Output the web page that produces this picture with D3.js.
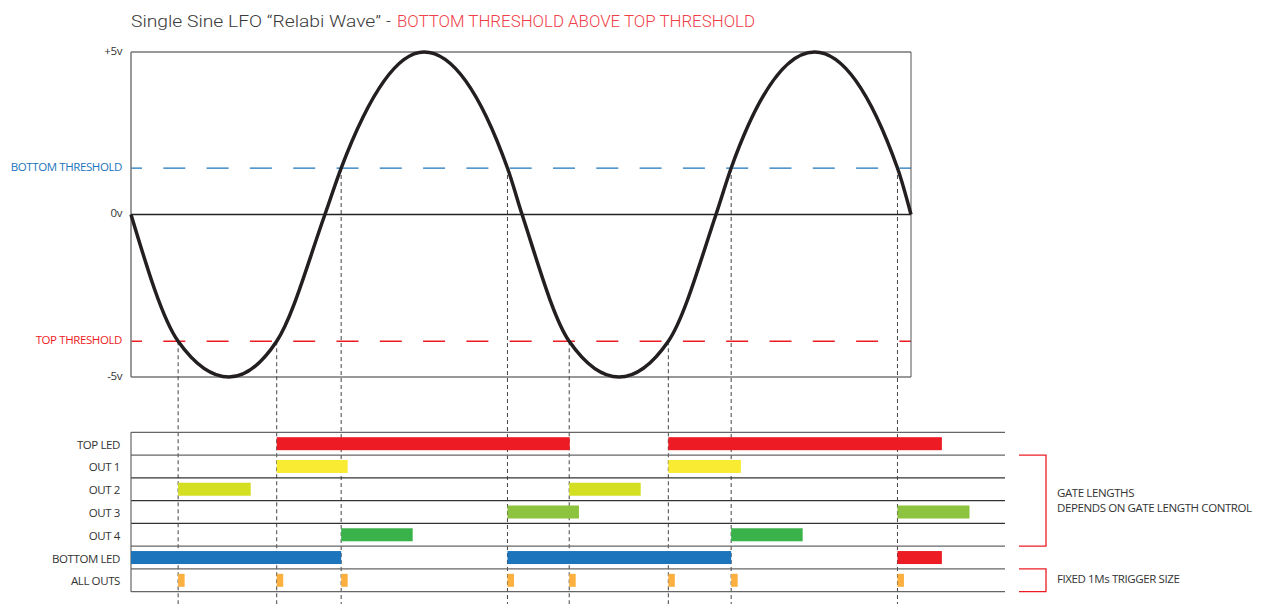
<!DOCTYPE html>
<html><head><meta charset="utf-8">
<script src="https://cdn.jsdelivr.net/npm/d3@7"></script>
<style>
html,body{margin:0;padding:0;background:#fff;}
svg{display:block;}
text{font-family:"Open Sans",sans-serif;}
</style></head>
<body>
<svg id="c" width="1265" height="606"></svg>
<script>
// ---- data (phase in degrees, voltage in volts) ----
const wavePhase = [0, 43.5, 90.5, 134.5, 179, 194, 270.5, 347.5, 361, 404.5, 450.5, 496, 540, 554, 631, 707.5, 720];
const waveVolts = [0, -3.9, -5, -3.9, 0, 1.43, 5, 1.43, 0, -3.9, -5, -3.9, 0, 1.43, 5, 1.43, 0];
const topThreshold = -3.9;
const bottomThreshold = 1.43;
const axisLabels = ["+5v", "BOTTOM THRESHOLD", "0v", "TOP THRESHOLD", "-5v"];
const axisValues = [5, 1.43, 0, -3.9, -5];
const axisKinds = ["plain", "bottom", "plain", "top", "plain"];
const crossPhases = [43.5, 134.5, 194, 347.5, 404.5, 496, 554, 707.5];
const crossKinds = ["top", "top", "bottom", "bottom", "top", "top", "bottom", "bottom"];
const rows = ["TOP LED", "OUT 1", "OUT 2", "OUT 3", "OUT 4", "BOTTOM LED", "ALL OUTS"];
const barRow = ["TOP LED","TOP LED","OUT 1","OUT 1","OUT 2","OUT 2","OUT 3","OUT 3","OUT 4","OUT 4","BOTTOM LED","BOTTOM LED","BOTTOM LED"];
const barStart = [134.5, 496, 134.5, 496, 43.5, 404.5, 347.5, 707.5, 194, 554, 0, 347.5, 707.5];
const barEnd   = [405, 748.5, 200, 563, 110.5, 470.5, 413.5, 774, 260, 620, 194, 554, 748.5];
const barKind  = ["top","top","out1","out1","out2","out2","out3","out3","out4","out4","bottom","bottom","top"];
const triggerPhases = [43.5, 134.5, 194, 347.5, 404.5, 496, 554, 707.5];
const triggerWidth = 6;
const titleMain = "Single Sine LFO \u201cRelabi Wave\u201d";
const titleSub = "BOTTOM THRESHOLD ABOVE TOP THRESHOLD";
const noteGate = ["GATE LENGTHS", "DEPENDS ON GATE LENGTH CONTROL"];
const noteTrig = "FIXED 1Ms TRIGGER SIZE";

const colors = {top:"#ED1C24", bottom:"#1C75BC", out1:"#F9EB32", out2:"#D4DF22", out3:"#8DC33F", out4:"#39B24A", trig:"#FBB040", plain:"#333"};

const svg = d3.select("#c");
const x = d3.scaleLinear().domain([0, 720]).range([131, 911]);
const y = d3.scaleLinear().domain([-5, 5]).range([377, 52]);
const rowY = d3.scaleBand().domain(rows).range([432.3, 591.7]);
const barH = 13;
const lblFont = "11.5px", lblSpace = "-0.4px";

// title
const t = svg.append("text").attr("x", 131).attr("y", 27).style("font-family","Roboto").style("font-weight","300").style("font-size","17px");
t.append("tspan").attr("fill","#3a3a3a").text(titleMain).attr("textLength",250).attr("lengthAdjust","spacingAndGlyphs");
t.append("tspan").attr("x",386).attr("fill","#3a3a3a").text("-");
t.append("tspan").attr("x",397).attr("fill","#EF4048").text(titleSub).attr("textLength",358).attr("lengthAdjust","spacingAndGlyphs");

// threshold dashed lines
[["bottom", bottomThreshold], ["top", topThreshold]].forEach(([k, v]) => {
  svg.append("line").attr("x1", x(0)).attr("x2", x(720)).attr("y1", y(v)).attr("y2", y(v))
    .attr("stroke", colors[k]).attr("stroke-width", 1.3)
    .attr("stroke-dasharray", "22,21.3").attr("stroke-dashoffset", 11);
});

// frame
svg.append("line").attr("x1", x(0)).attr("x2", x(720)).attr("y1", y(5)).attr("y2", y(5)).attr("stroke","#333").attr("stroke-width",1);
svg.append("line").attr("x1", x(0)).attr("x2", x(720)).attr("y1", y(-5)).attr("y2", y(-5)).attr("stroke","#333").attr("stroke-width",1);
svg.append("line").attr("x1", x(720)).attr("x2", x(720)).attr("y1", y(5)).attr("y2", y(-5)).attr("stroke","#555").attr("stroke-width",1);
svg.append("line").attr("x1", x(0)).attr("x2", x(0)).attr("y1", y(5)).attr("y2", y(-5)).attr("stroke","#777").attr("stroke-width",1.5);
svg.append("line").attr("x1", x(0)).attr("x2", x(720)).attr("y1", y(0)).attr("y2", y(0)).attr("stroke","#222").attr("stroke-width",1.6);

// axis labels
axisLabels.forEach((lab, i) => {
  svg.append("text").attr("x", 122).attr("y", y(axisValues[i]) - 1.5).attr("dy","0.35em")
    .attr("text-anchor","end").style("font-size",lblFont).style("letter-spacing",lblSpace)
    .attr("fill", axisKinds[i] === "plain" ? "#333" : colors[axisKinds[i]]).text(lab);
});

// dotted verticals
crossPhases.forEach((p, i) => {
  svg.append("line").attr("x1", x(p)).attr("x2", x(p))
    .attr("y1", y(crossKinds[i] === "top" ? topThreshold : bottomThreshold)).attr("y2", 604)
    .attr("stroke","#444").attr("stroke-width",1).attr("stroke-dasharray","4,3");
});

// wave
const wavePts = wavePhase.map((p, i) => [p, waveVolts[i]]);
svg.append("path").datum(wavePts)
  .attr("d", d3.line().x(d => x(d[0])).y(d => y(d[1])).curve(d3.curveMonotoneX))
  .attr("fill","none").attr("stroke","#231F20").attr("stroke-width",3.5);

// rows
const boundaries = rows.map(r => rowY(r)).concat([rowY.range()[1]]);
boundaries.forEach((b, i) => {
  svg.append("line").attr("x1", x(0)).attr("x2", 1005).attr("y1", b).attr("y2", b)
    .attr("stroke", (i >= 2 && i <= 4) ? "#333" : "#666").attr("stroke-width", 1.2);
});
svg.append("line").attr("x1", x(0)).attr("x2", x(0)).attr("y1", boundaries[0]).attr("y2", boundaries[boundaries.length-1]).attr("stroke","#666").attr("stroke-width",1.2);

rows.forEach(r => {
  svg.append("text").attr("x", 120).attr("y", rowY(r) + rowY.bandwidth()/2 + 1).attr("dy","0.35em")
    .attr("text-anchor","end").style("font-size",lblFont).style("letter-spacing",lblSpace).attr("fill","#333").text(r);
});

// bars
barRow.forEach((r, i) => {
  svg.append("rect").attr("x", x(barStart[i])).attr("width", x(barEnd[i]) - x(barStart[i]))
    .attr("y", rowY(r) + (rowY.bandwidth() - barH)/2).attr("height", barH).attr("fill", colors[barKind[i]]);
});
triggerPhases.forEach(p => {
  svg.append("rect").attr("x", x(p)).attr("width", x(p + triggerWidth) - x(p))
    .attr("y", rowY("ALL OUTS") + (rowY.bandwidth() - barH)/2).attr("height", barH).attr("fill", colors.trig);
});

// brackets
function bracket(y1, y2) {
  svg.append("path").attr("d", `M1019,${y1}H1046V${y2}H1019`).attr("fill","none").attr("stroke","#ED1C24").attr("stroke-width",1.3);
}
bracket(rowY("OUT 1"), rowY("OUT 4") + rowY.bandwidth());
bracket(rowY("ALL OUTS"), rowY("ALL OUTS") + rowY.bandwidth());
svg.append("text").attr("x",1057).attr("y",497).style("font-size",lblFont).style("letter-spacing",lblSpace).attr("fill","#333").text(noteGate[0]);
svg.append("text").attr("x",1057).attr("y",511.5).style("font-size",lblFont).style("letter-spacing",lblSpace).attr("fill","#333").text(noteGate[1]);
svg.append("text").attr("x",1057).attr("y",583).style("font-size",lblFont).style("letter-spacing",lblSpace).attr("fill","#333").text(noteTrig);
</script>
</body></html>
